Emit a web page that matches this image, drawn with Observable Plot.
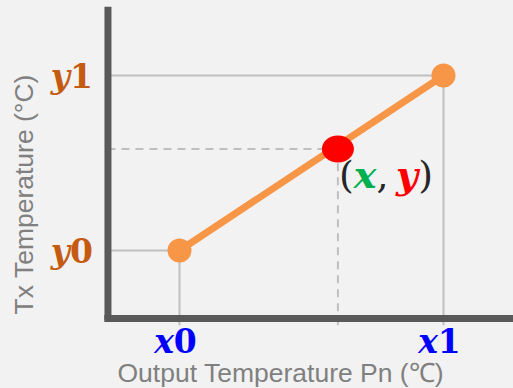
<!DOCTYPE html>
<html>
<head>
<meta charset="utf-8">
<script src="https://cdn.jsdelivr.net/npm/d3@7"></script>
<script src="https://cdn.jsdelivr.net/npm/@observablehq/plot@0.6"></script>
<style>
  html, body { margin: 0; padding: 0; background: #f2f2f2; }
  #chart svg { display: block; background: #f2f2f2; }
</style>
</head>
<body>
<div id="chart"></div>
<script>
// Endpoints of the interpolation segment (normalised units)
const pointLabelsX = ["x0", "x1"];
const pointLabelsY = ["y0", "y1"];
const pointX = [0, 1];
const pointY = [0, 1];
// Interpolated point (x, y)
const interpX = 0.6;
const interpY = 0.58;
const interpLabel = "(x, y)";
// Extent of the hand-drawn axes (same units)
const axisXMin = -0.271;
const axisXMax = 1.3;
const axisYMin = -0.389;
const axisYMax = 1.39;
const guideBottom = -0.43;
// Axis titles
const xTitle = "Output Temperature Pn (℃)";
const yTitle = "Tx Temperature (°C)";

const pts = pointX.map((x, i) => ({x, y: pointY[i], lx: pointLabelsX[i], ly: pointLabelsY[i]}));
const interp = [{x: interpX, y: interpY, label: interpLabel}];

const guide = "#bfbfbf";
const orange = "#f79646";
const mathFont = "'DejaVu Serif', 'Liberation Serif', serif";
const sansFont = "'Liberation Sans', Arial, sans-serif";

// slightly flattened round marker, as in the original drawing
const ellipse = {
  draw(context, size) {
    const r = Math.sqrt(size / Math.PI);
    const rx = r * 1.09, ry = r * 0.92, k = 0.5523;
    context.moveTo(rx, 0);
    context.bezierCurveTo(rx, k * ry, k * rx, ry, 0, ry);
    context.bezierCurveTo(-k * rx, ry, -rx, k * ry, -rx, 0);
    context.bezierCurveTo(-rx, -k * ry, -k * rx, -ry, 0, -ry);
    context.bezierCurveTo(k * rx, -ry, rx, -k * ry, rx, 0);
    context.closePath();
  }
};

const chart = Plot.plot({
  width: 513,
  height: 388,
  margin: 0,
  style: {background: "#f2f2f2", overflow: "visible"},
  x: {domain: [0, 1], range: [179, 443], axis: null},
  y: {domain: [0, 1], range: [250, 75], axis: null},
  marks: [
    // solid guides from endpoints to axes
    Plot.ruleY(pts, {y: "y", x1: axisXMin, x2: "x", stroke: guide, strokeWidth: 2}),
    Plot.ruleX(pts, {x: "x", y1: guideBottom, y2: "y", stroke: guide, strokeWidth: 2}),
    // dashed guides for the interpolated point
    Plot.ruleY(interp, {y: "y", x1: axisXMin, x2: "x", stroke: guide, strokeWidth: 2, strokeDasharray: "8,6"}),
    Plot.ruleX(interp, {x: "x", y1: guideBottom, y2: "y", stroke: guide, strokeWidth: 2, strokeDasharray: "8,6"}),
    // axes
    Plot.ruleX([axisXMin], {y1: axisYMin - 0.01, y2: axisYMax, stroke: "#595959", strokeWidth: 7}),
    Plot.ruleY([axisYMin], {x1: axisXMin - 0.012, x2: axisXMax, stroke: "#595959", strokeWidth: 7}),
    // segment and points
    Plot.line(pts, {x: "x", y: "y", stroke: orange, strokeWidth: 7}),
    Plot.dot(pts, {x: "x", y: "y", r: 12, fill: orange, stroke: null}),
    Plot.dot(interp, {x: "x", y: "y", r: 14.7, symbol: ellipse, fill: "#ff0000", stroke: null}),
    // labels
    Plot.text(pts, {x: axisXMin, y: "y", text: "ly", textAnchor: "end", dx: -15, dy: 1.5, fill: "#c55a11",
      fontSize: 33, fontWeight: "bold", fontFamily: mathFont}),
    Plot.text(pts, {x: "x", y: axisYMin, text: "lx", dy: 24, dx: -4, fill: "#0000ff",
      fontSize: 33, fontWeight: "bold", fontFamily: mathFont}),
    Plot.text(interp, {x: "x", y: "y", text: "label", textAnchor: "start", dx: 1, dy: 27, fill: "#262626",
      fontSize: 38, fontFamily: mathFont}),
    // axis titles
    Plot.text([xTitle], {frameAnchor: "bottom", textAnchor: "middle", lineAnchor: "middle", dx: 23.5, dy: -15,
      fill: "#808080", fontSize: 26.5, fontFamily: sansFont}),
    Plot.text([yTitle], {frameAnchor: "left", textAnchor: "middle", lineAnchor: "middle", rotate: -90, dx: 24.5, dy: 0,
      fill: "#808080", fontSize: 26.5, fontFamily: sansFont})
  ]
});

// Math-style typesetting: italic bold variables, upright digits, coloured parts
const styled = {
  "x0": [["x", "italic"], ["0", "normal"]],
  "x1": [["x", "italic"], ["1", "normal"]],
  "y0": [["y", "italic"], ["0", "normal"]],
  "y1": [["y", "italic"], ["1", "normal"]],
  "(x, y)": [["(", "normal", null, "normal"], ["x", "italic", "#00b050", "bold"], [",", "normal", null, "normal"],
             ["\u2009", "normal", null, "normal"], ["y", "italic", "#ff0000", "bold"], [")", "normal", null, "normal"]]
};
d3.select(chart).selectAll("text").each(function() {
  const t = this.textContent;
  if (styled[t]) {
    const el = d3.select(this);
    el.text(null);
    for (const [s, style, fill, weight] of styled[t]) {
      const ts = el.append("tspan").text(s).attr("font-style", style);
      if (fill) ts.attr("fill", fill);
      if (weight) ts.attr("font-weight", weight);
    }
  }
});

document.getElementById("chart").append(chart);
</script>
</body>
</html>
